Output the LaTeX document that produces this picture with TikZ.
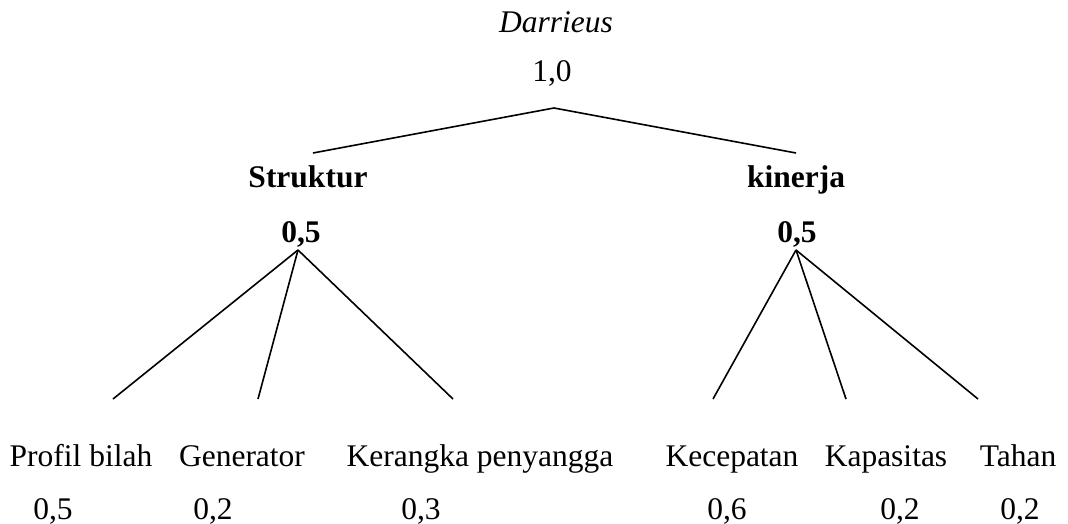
\documentclass[tikz,border=0pt]{standalone}
\usepackage{fontspec}
\setmainfont{Liberation Serif}
\begin{document}
\begin{tikzpicture}[x=1pt,y=-1pt,
  lbl/.style={anchor=base,inner sep=0pt,font=\fontsize{31.5}{36}\selectfont},
  conn/.style={line width=1.6pt,line join=miter}]
\useasboundingbox (0,0) rectangle (1068,524);
% texts
\node[lbl,font=\fontsize{31.5}{36}\selectfont\itshape] (dar) at (556,33) {Darrieus};
\node[lbl] (w0) at (552,82) {1,0};
\node[lbl,font=\fontsize{31.5}{36}\selectfont\bfseries] (str) at (308,187) {Struktur};
\node[lbl,font=\fontsize{31.5}{36}\selectfont\bfseries] (kin) at (796,187) {kinerja};
\node[lbl,font=\fontsize{31.5}{36}\selectfont\bfseries] (ws) at (301,242) {0,5};
\node[lbl,font=\fontsize{31.5}{36}\selectfont\bfseries] (wk) at (797,242) {0,5};
\node[lbl] (c1) at (81,466) {Profil bilah};
\node[lbl] (c2) at (242,466) {Generator};
\node[lbl] (c3) at (480,466) {Kerangka penyangga};
\node[lbl] (c4) at (732,466) {Kecepatan};
\node[lbl] (c5) at (886,466) {Kapasitas};
\node[lbl] (c6) at (1018,466) {Tahan};
\node[lbl] (v1) at (53,519) {0,5};
\node[lbl] (v2) at (213,519) {0,2};
\node[lbl] (v3) at (421,519) {0,3};
\node[lbl] (v4) at (727,519) {0,6};
\node[lbl] (v5) at (900,519) {0,2};
\node[lbl] (v6) at (1020,519) {0,2};
% connector points
\coordinate (top) at (554,108);
\coordinate (sL) at (313,153);
\coordinate (sR) at (796,153);
\coordinate (aL) at (298,250);
\coordinate (aR) at (796,250);
\coordinate (e1) at (113,399);
\coordinate (e2) at (258,399);
\coordinate (e3) at (453,399);
\coordinate (e4) at (713,399);
\coordinate (e5) at (846,399);
\coordinate (e6) at (978,399);
% connectors
\draw[conn] (sL) -- (top) -- (sR);
\draw[conn] (aL) -- (e1);
\draw[conn] (aL) -- (e2);
\draw[conn] (aL) -- (e3);
\draw[conn] (aR) -- (e4);
\draw[conn] (aR) -- (e5);
\draw[conn] (aR) -- (e6);
\end{tikzpicture}
\end{document}
